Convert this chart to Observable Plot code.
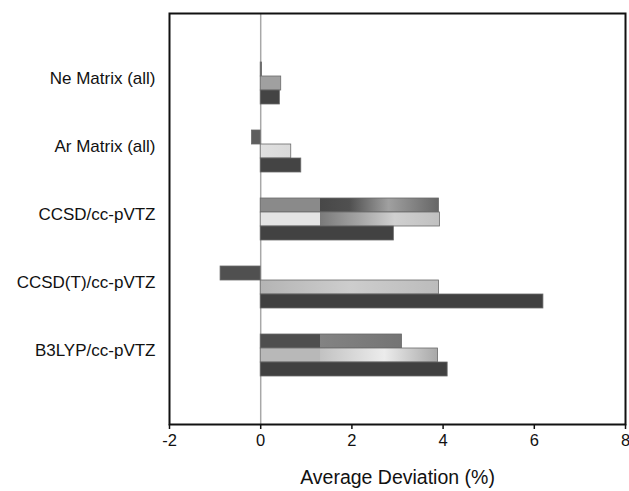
<!DOCTYPE html>
<html><head><meta charset="utf-8">
<script src="https://cdn.jsdelivr.net/npm/d3@7"></script>
<script src="https://cdn.jsdelivr.net/npm/@observablehq/plot@0.6"></script>
<style>body{margin:0;background:#fff}#chart{width:629px;height:491px}</style>
</head><body><div id="chart"></div>
<script>
const categories = ["Ne Matrix (all)", "Ar Matrix (all)", "CCSD/cc-pVTZ", "CCSD(T)/cc-pVTZ", "B3LYP/cc-pVTZ"];
const series1 = [0.03, -0.19, 3.91, -0.88, 3.10];
const series2 = [0.45, 0.67, 3.93, 3.91, 3.89];
const series3 = [0.42, 0.89, 2.92, 6.20, 4.10];
const xTicks = [-2, 0, 2, 4, 6, 8];
const xLabel = "Average Deviation (%)";

// gradient fill styles (per series, per category)
const fillStops = [
  [
    [[0, "#666"], [1, "#666"]],
    [[0, "#5e5e5e"], [1, "#5e5e5e"]],
    [[0, "#8a8a8a"], [0.335, "#8a8a8a"], [0.336, "#484848"], [0.5, "#505050"], [0.72, "#a0a0a0"], [1, "#666"]],
    [[0, "#505050"], [1, "#505050"]],
    [[0, "#4e4e4e"], [0.42, "#4e4e4e"], [0.421, "#838383"], [1, "#747474"]]
  ],
  [
    [[0, "#a0a0a0"], [1, "#a0a0a0"]],
    [[0, "#e0e0e0"], [1, "#dadada"]],
    [[0, "#e4e4e4"], [0.333, "#e4e4e4"], [0.334, "#7a7a7a"], [0.55, "#a4a4a4"], [0.75, "#d0d0d0"], [1, "#c0c0c0"]],
    [[0, "#b4b4b4"], [0.5, "#cdcdcd"], [1, "#bcbcbc"]],
    [[0, "#b8b8b8"], [0.337, "#b8b8b8"], [0.338, "#c2c2c2"], [0.7, "#ececec"], [1, "#a8a8a8"]]
  ],
  [
    [[0, "#444"], [1, "#444"]],
    [[0, "#444"], [1, "#444"]],
    [[0, "#424242"], [1, "#424242"]],
    [[0, "#404040"], [1, "#404040"]],
    [[0, "#404040"], [1, "#404040"]]
  ]
];

const allSeries = [series1, series2, series3];
const rows = [];
allSeries.forEach((vals, s) => vals.forEach((v, i) =>
  rows.push({category: categories[i], series: s, value: v, fill: `url(#g${s}_${i})`})));

function gradientDefs() {
  const d = d3.create("svg:defs");
  fillStops.forEach((row, s) => row.forEach((stops, i) => {
    const g = d.append("linearGradient").attr("id", `g${s}_${i}`)
      .attr("x1", 0).attr("x2", 1).attr("y1", 0).attr("y2", 0);
    stops.forEach(([o, c]) => g.append("stop").attr("offset", o).attr("stop-color", c));
  }));
  return d.node();
}

const bandPx = 42, barPx = bandPx / 3;
const font = "'Liberation Sans', Arial, sans-serif";

const chart = Plot.plot({
  width: 629,
  height: 491,
  marginTop: 13,
  marginBottom: 67,
  marginLeft: 169,
  marginRight: 4,
  style: {fontFamily: font, color: "#111", background: "#fff"},
  x: {domain: [-2, 8], axis: null},
  y: {domain: categories, paddingInner: 0.387, paddingOuter: 0.6935, axis: null},
  color: {type: "identity"},
  marks: [
    gradientDefs,
    Plot.ruleX([0], {stroke: "#a8a8a8", strokeWidth: 1.5}),
    ...allSeries.map((_, s) => Plot.barX(rows.filter(d => d.series === s), {
      x: "value", y: "category", fill: "fill",
      stroke: "#6a6a6a", strokeWidth: 0.8,
      insetTop: s * barPx, insetBottom: (2 - s) * barPx
    })),
    Plot.frame({stroke: "#111", strokeWidth: 2}),
    Plot.axisX({ticks: xTicks, tickFormat: d => String(d), tickSize: 5, tickPadding: 5, fontSize: 16.5, label: null, stroke: "#111", strokeWidth: 1.5}),
    Plot.axisY({tickSize: 0, tickPadding: 14, fontSize: 17, label: null, dy: -5}),
    Plot.text([xLabel], {frameAnchor: "bottom", dy: 59, fontSize: 19.5, fill: "#111"})
  ]
});
document.getElementById("chart").appendChild(chart);
</script>
</body></html>
